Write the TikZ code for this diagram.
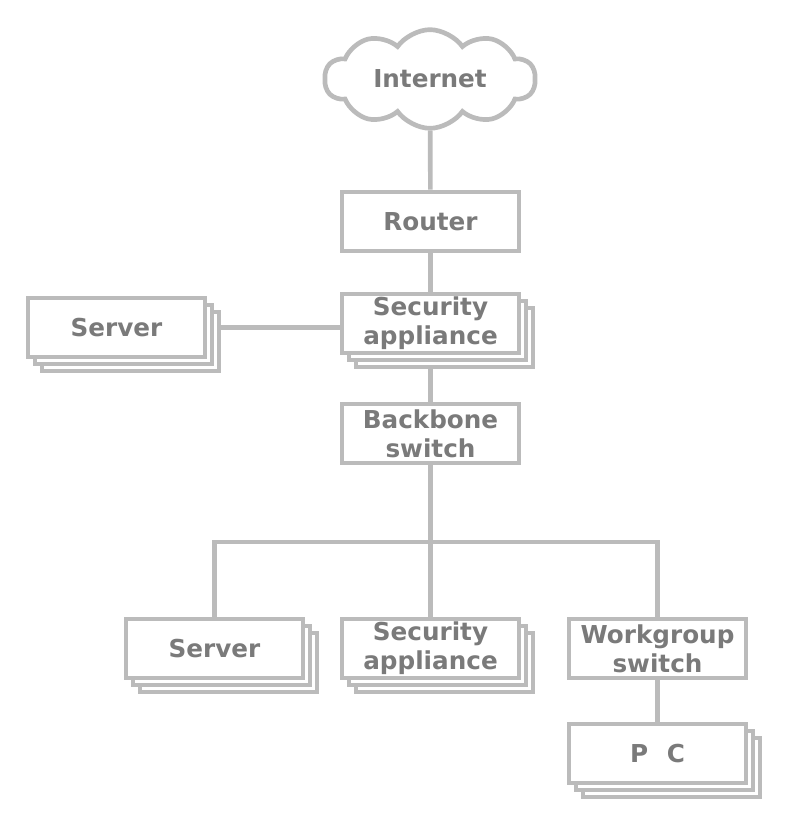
\documentclass[tikz,border=0pt]{standalone}
\usepackage{fontspec}
\setmainfont{DejaVu Sans}
\usetikzlibrary{shapes.symbols, shadows, backgrounds}
\definecolor{netline}{HTML}{BBBBBB}
\definecolor{nettext}{HTML}{7A7A7A}
\tikzset{device/.style={draw=netline, fill=white, line width=3.5pt, minimum width=132.75pt, minimum height=44.25pt, inner sep=0pt, align=center, text=nettext, font=\fontsize{18.5}{21.75}\selectfont\bfseries}}
\tikzset{stacked/.style={device, double copy shadow={shadow xshift=5.25pt, shadow yshift=-5.25pt}}}
\tikzset{link/.style={draw=netline, line width=3.5pt}}
\begin{document}
\begin{tikzpicture}[x=0.75pt, y=-0.75pt]
            \useasboundingbox (0, 0) rectangle (792, 834);
            \node[device, cloud, cloud puffs=10, cloud puff arc=110, aspect=2.1, minimum width=158pt, minimum height=74pt] (inet) at (430, 79) {Internet};
            \node[device] (router) at (430.5, 221.5) {Router};
            \node[stacked] (secA) at (430.5, 323.5) {Security\\appliance};
            \node[stacked] (srvA) at (116.5, 327.5) {Server};
            \node[device] (bbs) at (430.5, 433.5) {Backbone\\switch};
            \node[stacked] (srvB) at (214.5, 648.5) {Server};
            \node[stacked] (secB) at (430.5, 648.5) {Security\\appliance};
            \node[device] (wgs) at (657.5, 648.5) {Workgroup\\switch};
            \node[stacked] (pc) at (657.5, 753.5) {P\hspace{0.75em}C};
            \coordinate (bus) at (430.5, 542);
            \begin{scope}[on background layer]
                \draw[link] (inet) -- (router);
                \draw[link] (router) -- (secA);
                \draw[link] (srvA.east) -- (srvA.east -| secA.west);
                \draw[link] (secA) -- (bbs);
                \draw[link] (bbs) -- (bus);
                \draw[link] (bus) -| (srvB.north);
                \draw[link] (bus) -| (wgs.north);
                \draw[link] (bus) -- (secB.north);
                \draw[link] (wgs) -- (pc);
            \end{scope}
        \end{tikzpicture}
\end{document}
